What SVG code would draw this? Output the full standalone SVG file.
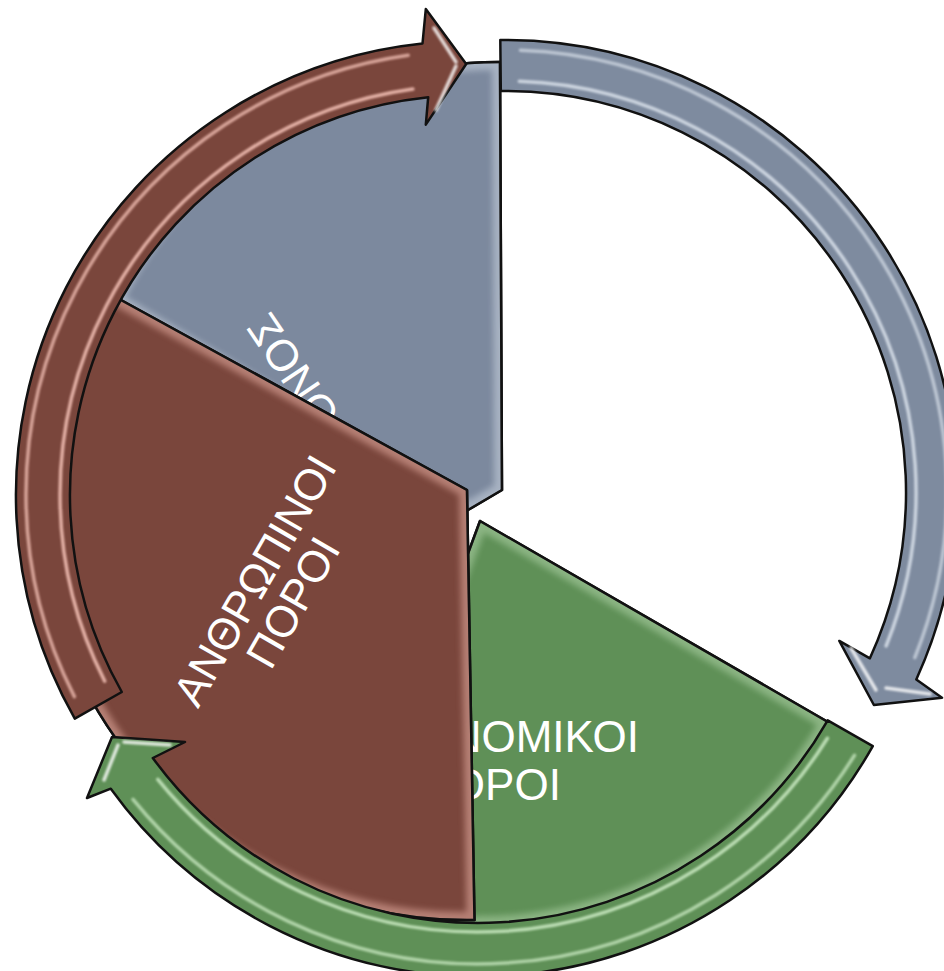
<svg xmlns="http://www.w3.org/2000/svg" width="944" height="971" viewBox="0 0 944 971">
<style>
.outline{stroke:#111;stroke-width:2.5;stroke-linejoin:round}
.txt{font-family:"Liberation Sans",Arial,sans-serif;font-size:44px;fill:#fff}
.hl{fill:none;stroke-width:3.5;stroke-linecap:round;filter:url(#soft)}
</style>
<defs>
<filter id="soft" x="-10%" y="-10%" width="120%" height="120%"><feGaussianBlur stdDeviation="1.3"/></filter>
<filter id="bev" x="-10%" y="-10%" width="120%" height="120%"><feGaussianBlur stdDeviation="3"/></filter>
<path id="wGrey" d="M115,300 A428,428 0 0 1 500,62 L502,490 L468,510 Z"/>
<path id="wBrown" d="M467,490 L90,283 A430,430 0 0 0 474.5,920 Z"/>
<path id="wGreen" d="M480,521 L828,722 A404,404 0 0 1 340,900 Z"/>
<clipPath id="cGrey"><use href="#wGrey"/></clipPath>
<clipPath id="cBrown"><use href="#wBrown"/></clipPath>
<clipPath id="cGreen"><use href="#wGreen"/></clipPath>
</defs>

<g id="segment-grey">
<use href="#wGrey" fill="#7C899E" class="outline"/>
<use href="#wGrey" fill="none" stroke="#DCE4EE" stroke-width="16" opacity="0.45" clip-path="url(#cGrey)" filter="url(#bev)"/>
<use href="#wGrey" fill="none" class="outline"/>
<text class="txt" transform="translate(270,310) rotate(236)" text-anchor="end">ΧΡΟΝΟΣ</text>
</g>

<g id="segment-green">
<use href="#wGreen" fill="#5F9057" class="outline"/>
<use href="#wGreen" fill="none" stroke="#CDEBC5" stroke-width="16" opacity="0.4" clip-path="url(#cGreen)" filter="url(#bev)"/>
<use href="#wGreen" fill="none" class="outline"/>
<text class="txt" x="490" y="752" text-anchor="middle">ΟΙΚΟΝΟΜΙΚΟΙ</text>
<text class="txt" x="490" y="800" text-anchor="middle">ΠΟΡΟΙ</text>
</g>

<g id="segment-brown">
<use href="#wBrown" fill="#7A463C" class="outline"/>
<use href="#wBrown" fill="none" stroke="#F0B8AC" stroke-width="16" opacity="0.5" clip-path="url(#cBrown)" filter="url(#bev)"/>
<use href="#wBrown" fill="none" class="outline"/>
<g transform="translate(268,588) rotate(-60)">
<text class="txt" x="0" y="0" text-anchor="middle">ΑΝΘΡΩΠΙΝΟΙ</text>
<text class="txt" x="0" y="44" text-anchor="middle">ΠΟΡΟΙ</text>
</g>
</g>

<g id="connectors">
<g id="arrow-grey">
<path class="outline" fill="#7E8B9F" d="M500.3,40 A452,452 0 0 1 916.3,679.4 L942,697.7 L873.9,705 L839.3,640.9 L869.9,658.3 A401,401 0 0 0 500.8,91 Z"/>
<path class="hl" stroke="#E6EDF5" opacity="0.75" d="M519.3,81.2 A411,411 0 0 1 886.1,646"/>
<path class="hl" stroke="#E6EDF5" opacity="0.6" d="M520.4,50.3 A442,442 0 0 1 914.8,657.6"/>
<path class="hl" stroke="#FFFFFF" opacity="0.8" d="M851,648 L876,690 M930,694 L886,688"/>
</g>
<g id="arrow-brown">
<path class="outline" fill="#7A463C" d="M74.8,718.6 A454,454 0 0 1 422.5,43.5 L425.8,9 L466.2,64 L425.8,124.6 L428.2,97.2 A400,400 0 0 0 121.8,692 Z"/>
<path class="hl" stroke="#F6C3B8" opacity="0.85" d="M104.7,681.1 A410,410 0 0 1 412.9,89"/>
<path class="hl" stroke="#F6C3B8" opacity="0.75" d="M74.4,696.6 A444,444 0 0 1 408.2,55.3"/>
<path class="hl" stroke="#FFFFFF" opacity="0.8" d="M434,28 L456,62 M456,66 L436,110"/>
</g>
<g id="arrow-green">
<path class="outline" fill="#5F9057" d="M827.7,720.3 A403,403 0 0 1 152.8,758 L185,742 L112,737 L87,798 L110.8,788.7 A453,453 0 0 0 872.8,746.1 Z"/>
<path class="hl" stroke="#D2F0CA" opacity="0.8" d="M827.4,738.3 A412,412 0 0 1 157.8,779.3"/>
<path class="hl" stroke="#D2F0CA" opacity="0.7" d="M854.5,755.3 A444,444 0 0 1 133,799.4"/>
<path class="hl" stroke="#FFFFFF" opacity="0.8" d="M118,745 L104,780 M124,742 L170,745"/>
</g>
</g>
</svg>
